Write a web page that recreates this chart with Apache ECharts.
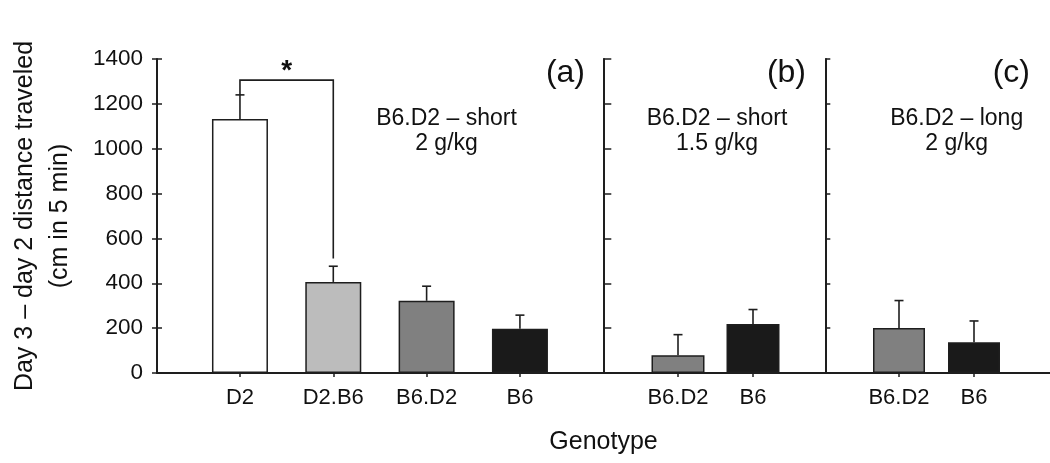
<!DOCTYPE html>
<html>
<head>
<meta charset="utf-8">
<script src="https://cdn.jsdelivr.net/npm/echarts@6/dist/echarts.min.js"></script>
<style>
html,body{margin:0;padding:0;background:#fff;}
#chart{width:1050px;height:463px;}
</style>
</head>
<body>
<div id="chart"></div>
<script>
// ---- data ----
const categoriesA = ['D2', 'D2.B6', 'B6.D2', 'B6'];
const meansA = [1133, 406, 322, 197];
const semA = [107, 70, 65, 61];

const categoriesB = ['B6.D2', 'B6'];
const meansB = [79, 219];
const semB = [92, 64];

const categoriesC = ['B6.D2', 'B6'];
const meansC = [201, 137];
const semC = [122, 95];

// significance bracket: [fromIndex, toIndex, bracketY, leftEndY, rightEndY]
const bracketA = [[0, 1, 1306, 1240, 511]];

const yMin = 0, yMax = 1400, yInterval = 200;
const yTitle = 'Day 3 \u2013 day 2 distance traveled\n(cm in 5 min)';
const xTitle = 'Genotype';
const panelLetters = ['(a)', '(b)', '(c)'];
const panelTexts = ['B6.D2 \u2013 short\n2 g/kg', 'B6.D2 \u2013 short\n1.5 g/kg', 'B6.D2 \u2013 long\n2 g/kg'];

// ---- styles ----
const FONT = 'Liberation Sans, Arial, Helvetica, sans-serif';
const INK = '#1e1e1e';
const paletteA = ['#ffffff', '#bcbcbc', '#808080', '#1a1a1a'];
const paletteBC = ['#808080', '#1a1a1a'];

const chart = echarts.init(document.getElementById('chart'), null, {renderer: 'canvas'});

const gridTop = 59, gridHeight = 314;

function hiddenY(idx, extra) {
  return Object.assign({
    type: 'value', gridIndex: idx, min: yMin, max: yMax, interval: yInterval,
    axisLine: {show: false}, axisTick: {show: false}, axisLabel: {show: false}, splitLine: {show: false}
  }, extra || {});
}
function catX(idx, cats) {
  return {
    type: 'category', gridIndex: idx, data: cats,
    axisLine: {show: false},
    axisTick: {show: true, alignWithLabel: true, length: 4, lineStyle: {color: INK, width: 1.5}},
    axisLabel: {fontSize: 22, fontFamily: FONT, color: '#111', margin: 14, interval: 0},
    splitLine: {show: false}
  };
}
function barSeries(axisIdx, values, palette, width) {
  return {
    type: 'bar', xAxisIndex: axisIdx, yAxisIndex: axisIdx, data: values,
    barWidth: width, z: 2,
    itemStyle: {color: p => palette[p.dataIndex], borderColor: INK, borderWidth: 1.5}
  };
}
function errSeries(axisIdx, means, sems) {
  return {
    type: 'custom', xAxisIndex: axisIdx, yAxisIndex: axisIdx, z: 3,
    data: means.map((m, i) => [i, m, m + sems[i]]),
    encode: {x: 0, y: [1, 2]},
    renderItem: function (params, api) {
      const p0 = api.coord([api.value(0), api.value(1)]);
      const p1 = api.coord([api.value(0), api.value(2)]);
      const st = {stroke: INK, lineWidth: 1.6};
      return {type: 'group', children: [
        {type: 'line', shape: {x1: p0[0], y1: p0[1], x2: p1[0], y2: p1[1]}, style: st},
        {type: 'line', shape: {x1: p1[0] - 4.5, y1: p1[1], x2: p1[0] + 4.5, y2: p1[1]}, style: st}
      ]};
    }
  };
}

const option = {
  animation: false,
  backgroundColor: '#ffffff',
  grid: [
    {left: 157, right: 0, top: gridTop, height: gridHeight},
    {left: 193.3, width: 373.3, top: gridTop, height: gridHeight},
    {left: 640.5, width: 150, top: gridTop, height: gridHeight},
    {left: 861.5, width: 150, top: gridTop, height: gridHeight}
  ],
  xAxis: [
    {type: 'value', gridIndex: 0, min: 0, max: 1,
     axisLine: {show: true, lineStyle: {color: INK, width: 2}},
     axisTick: {show: false}, axisLabel: {show: false}, splitLine: {show: false},
     name: xTitle, nameLocation: 'middle', nameGap: 57,
     nameTextStyle: {fontSize: 25, fontFamily: FONT, color: '#111'}},
    catX(1, categoriesA),
    catX(2, categoriesB),
    catX(3, categoriesC)
  ],
  yAxis: [
    // index 0: main axis with labels (inside ticks)
    {type: 'value', gridIndex: 0, min: yMin, max: yMax, interval: yInterval, position: 'left',
     axisLine: {show: true, lineStyle: {color: INK, width: 2}},
     axisTick: {show: true, inside: true, length: 5, lineStyle: {color: INK, width: 1.5}},
     axisLabel: {fontSize: 22.5, fontFamily: FONT, color: '#111', margin: 14, formatter: v => String(v)},
     splitLine: {show: false},
     name: yTitle, nameLocation: 'middle', nameGap: 79, nameRotate: 90,
     nameTextStyle: {fontSize: 25, fontFamily: FONT, color: '#111', lineHeight: 35, align: 'center'}},
    // index 1: grid a (hidden)
    hiddenY(1),
    // index 2: grid b -> divider line with inward ticks
    hiddenY(2, {position: 'left', offset: 37.2,
      axisLine: {show: true, lineStyle: {color: INK, width: 2}},
      axisTick: {show: true, inside: true, length: 8, lineStyle: {color: INK, width: 1.5}}}),
    // index 3: grid c -> divider line with inward ticks
    hiddenY(3, {position: 'left', offset: 36.2,
      axisLine: {show: true, lineStyle: {color: INK, width: 2}},
      axisTick: {show: true, inside: true, length: 5, lineStyle: {color: INK, width: 1.5}}}),
    // index 4: outward ticks of main axis
    {type: 'value', gridIndex: 0, min: yMin, max: yMax, interval: yInterval, position: 'left',
     axisLine: {show: false},
     axisTick: {show: true, inside: false, length: 5, lineStyle: {color: INK, width: 1.5}},
     axisLabel: {show: false}, splitLine: {show: false}}
  ],
  series: [
    barSeries(1, meansA, paletteA, 56),
    errSeries(1, meansA, semA),
    barSeries(2, meansB, paletteBC, 53),
    errSeries(2, meansB, semB),
    barSeries(3, meansC, paletteBC, 52),
    errSeries(3, meansC, semC),
    {
      type: 'custom', xAxisIndex: 1, yAxisIndex: 1, z: 4,
      data: bracketA,
      encode: {x: [0, 1], y: [2, 3, 4]},
      renderItem: function (params, api) {
        const a = api.value(0), b = api.value(1), yb = api.value(2);
        const pL = api.coord([a, api.value(3)]);
        const pLT = api.coord([a, yb]);
        const pRT = api.coord([b, yb]);
        const pR = api.coord([b, api.value(4)]);
        return {type: 'group', children: [
          {type: 'polyline', shape: {points: [pL, pLT, pRT, pR]},
           style: {stroke: INK, lineWidth: 1.6, fill: null}},
          {type: 'text', x: (pLT[0] + pRT[0]) / 2, y: pLT[1] - 8.5,
           style: {text: '*', font: 'bold 28px ' + FONT, fill: '#111', align: 'center', verticalAlign: 'middle'}}
        ]};
      }
    }
  ],
  graphic: [
    {type: 'text', x: 585, y: 73, style: {text: panelLetters[0], font: '32px ' + FONT, fill: '#111', align: 'right', verticalAlign: 'middle'}},
    {type: 'text', x: 806, y: 73, style: {text: panelLetters[1], font: '32px ' + FONT, fill: '#111', align: 'right', verticalAlign: 'middle'}},
    {type: 'text', x: 1030, y: 73, style: {text: panelLetters[2], font: '32px ' + FONT, fill: '#111', align: 'right', verticalAlign: 'middle'}},
    {type: 'text', x: 446.5, y: 106, style: {text: panelTexts[0], font: '23px ' + FONT, fill: '#111', align: 'center', verticalAlign: 'top', lineHeight: 25}},
    {type: 'text', x: 717, y: 106, style: {text: panelTexts[1], font: '23px ' + FONT, fill: '#111', align: 'center', verticalAlign: 'top', lineHeight: 25}},
    {type: 'text', x: 956.7, y: 106, style: {text: panelTexts[2], font: '23px ' + FONT, fill: '#111', align: 'center', verticalAlign: 'top', lineHeight: 25}}
  ]
};
chart.setOption(option);
</script>
</body>
</html>
